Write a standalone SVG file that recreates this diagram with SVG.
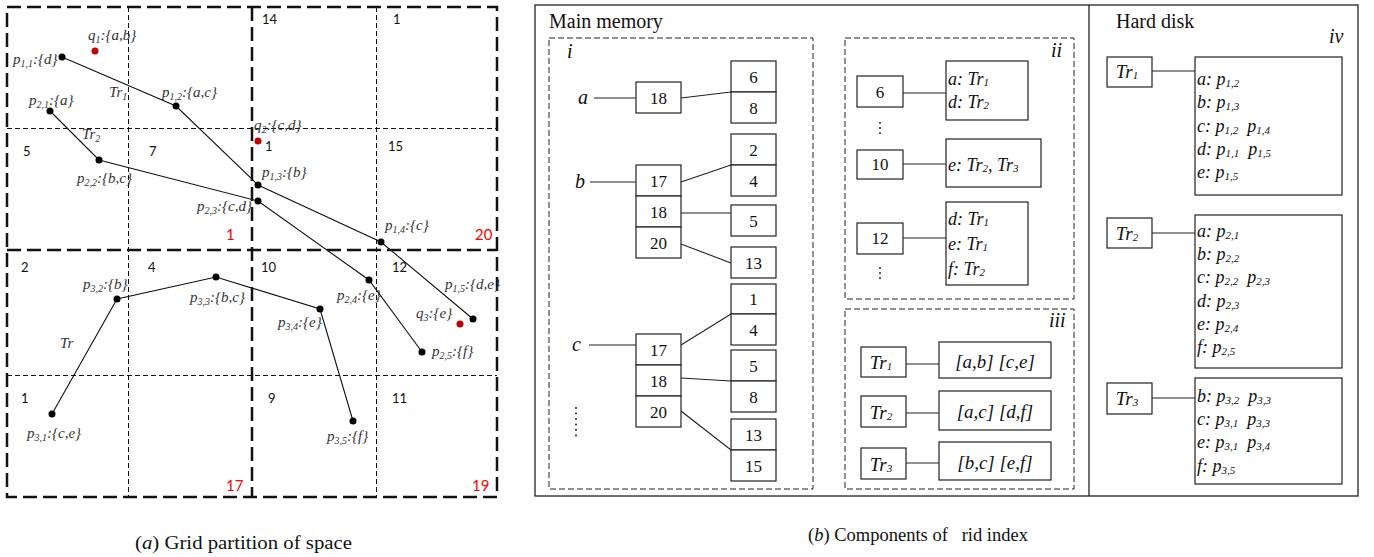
<svg xmlns="http://www.w3.org/2000/svg" width="1374" height="557" viewBox="0 0 1374 557">
<style>
.thk{fill:none;stroke:#111;stroke-width:2.5;stroke-dasharray:14,6}
.thn{fill:none;stroke:#111;stroke-width:1;stroke-dasharray:5,3}
.trj{fill:none;stroke:#111;stroke-width:1.1}
.pt{fill:#000}
.q{fill:#c00000}
.lb{font-family:"Liberation Serif",serif;font-style:italic;font-size:15px;fill:#333}
.s{font-size:10px}
.num{font-family:Lato,"Liberation Sans",sans-serif;font-size:13px;fill:#111}
.rn{font-family:Lato,"Liberation Sans",sans-serif;font-size:15px;fill:#f00}
.bx{fill:#fff;stroke:#222;stroke-width:1.2}
.dsh{fill:none;stroke:#222;stroke-width:1;stroke-dasharray:6,3}
.ln{fill:none;stroke:#222;stroke-width:1.1}
.bn{font-family:"Liberation Serif",serif;font-size:17px;fill:#111;text-anchor:middle}
.it{font-family:"Liberation Serif",serif;font-style:italic;font-size:18px;fill:#111}
.itc{font-family:"Liberation Serif",serif;font-style:italic;font-size:19px;fill:#111;text-anchor:middle}
.sb{font-size:11px}
.ttl{font-family:"Liberation Serif",serif;font-size:20px;fill:#111}
.big{font-family:"Liberation Serif",serif;font-style:italic;font-size:20px;fill:#111}
.cap{font-family:"Liberation Serif",serif;font-size:19px;fill:#111;white-space:pre}
</style>

<g id="grid">
  <line class="thn" x1="128.5" y1="7" x2="128.5" y2="497"/>
  <line class="thn" x1="376.5" y1="7" x2="376.5" y2="497"/>
  <line class="thn" x1="7" y1="128.5" x2="497" y2="128.5"/>
  <line class="thn" x1="7" y1="375.5" x2="497" y2="375.5"/>
  <rect class="thk" x="7" y="7" width="490" height="490"/>
  <line class="thk" x1="252" y1="7" x2="252" y2="497"/>
  <line class="thk" x1="7" y1="250" x2="497" y2="250"/>
  <text class="num" x="262" y="24">14</text>
  <text class="num" x="393" y="24">1</text>
  <text class="num" x="23" y="156">5</text>
  <text class="num" x="149" y="156">7</text>
  <text class="num" x="265" y="151">1</text>
  <text class="num" x="388" y="151">15</text>
  <text class="num" x="21" y="272">2</text>
  <text class="num" x="148" y="272">4</text>
  <text class="num" x="261" y="272">10</text>
  <text class="num" x="392" y="272">12</text>
  <text class="num" x="21" y="403">1</text>
  <text class="num" x="268" y="403">9</text>
  <text class="num" x="392" y="403">11</text>
  <text class="rn" x="226" y="240">1</text>
  <text class="rn" x="475" y="240">20</text>
  <text class="rn" x="226" y="491">17</text>
  <text class="rn" x="472" y="491">19</text>
</g>

<g id="connectors">
  <polyline class="trj" points="62,57 176,106 258,185 381,242 473,319"/>
  <polyline class="trj" points="50,111 99,160 258,201 369,280 422,352"/>
  <polyline class="trj" points="52,414 117,299 216,277 320,309 353,421"/>
  <line class="ln" x1="594" y1="98" x2="636" y2="98"/>
  <line class="ln" x1="681" y1="98" x2="731" y2="92"/>
  <line class="ln" x1="590" y1="182" x2="636" y2="182"/>
  <line class="ln" x1="681" y1="182" x2="731" y2="165"/>
  <line class="ln" x1="681" y1="213" x2="731" y2="213"/>
  <line class="ln" x1="681" y1="244" x2="731" y2="263"/>
  <line class="ln" x1="589" y1="345" x2="636" y2="345"/>
  <line class="ln" x1="681" y1="345" x2="731" y2="314"/>
  <line class="ln" x1="681" y1="378" x2="731" y2="381"/>
  <line class="ln" x1="681" y1="411" x2="731" y2="450"/>
  <line class="ln" x1="903" y1="93" x2="946" y2="93"/>
  <line class="ln" x1="903" y1="164" x2="946" y2="164"/>
  <line class="ln" x1="900" y1="238" x2="946" y2="238"/>
  <line class="ln" x1="906" y1="364" x2="939" y2="364"/>
  <line class="ln" x1="906" y1="413" x2="939" y2="413"/>
  <line class="ln" x1="906" y1="463" x2="939" y2="463"/>
  <line class="ln" x1="1152" y1="71" x2="1195" y2="71"/>
  <line class="ln" x1="1152" y1="233" x2="1195" y2="233"/>
  <line class="ln" x1="1152" y1="398" x2="1195" y2="398"/>
</g>

<g id="points">
  <circle class="pt" cx="62" cy="57" r="3.5"/>
  <circle class="pt" cx="176" cy="106" r="3.5"/>
  <circle class="pt" cx="258" cy="185" r="3.5"/>
  <circle class="pt" cx="381" cy="242" r="3.5"/>
  <circle class="pt" cx="473" cy="319" r="3.5"/>
  <circle class="pt" cx="50" cy="111" r="3.5"/>
  <circle class="pt" cx="99" cy="160" r="3.5"/>
  <circle class="pt" cx="258" cy="201" r="3.5"/>
  <circle class="pt" cx="369" cy="280" r="3.5"/>
  <circle class="pt" cx="422" cy="352" r="3.5"/>
  <circle class="pt" cx="52" cy="414" r="3.5"/>
  <circle class="pt" cx="117" cy="299" r="3.5"/>
  <circle class="pt" cx="216" cy="277" r="3.5"/>
  <circle class="pt" cx="320" cy="309" r="3.5"/>
  <circle class="pt" cx="353" cy="421" r="3.5"/>
  <circle class="q" cx="95" cy="51" r="3.5"/>
  <circle class="q" cx="258" cy="141" r="3.5"/>
  <circle class="q" cx="460" cy="324" r="3.5"/>
</g>

<g id="point-labels">
  <text class="lb" x="88" y="40">q<tspan class="s" dy="3">1</tspan><tspan dy="-3">:{a,b}</tspan></text>
  <text class="lb" x="13" y="64">p<tspan class="s" dy="3">1,1</tspan><tspan dy="-3">:{d}</tspan></text>
  <text class="lb" x="109" y="97">Tr<tspan class="s" dy="3">1</tspan></text>
  <text class="lb" x="162" y="97">p<tspan class="s" dy="3">1,2</tspan><tspan dy="-3">:{a,c}</tspan></text>
  <text class="lb" x="29" y="105">p<tspan class="s" dy="3">2,1</tspan><tspan dy="-3">:{a}</tspan></text>
  <text class="lb" x="82" y="139">Tr<tspan class="s" dy="3">2</tspan></text>
  <text class="lb" x="77" y="183">p<tspan class="s" dy="3">2,2</tspan><tspan dy="-3">:{b,c}</tspan></text>
  <text class="lb" x="197" y="211">p<tspan class="s" dy="3">2,3</tspan><tspan dy="-3">:{c,d}</tspan></text>
  <text class="lb" x="254" y="130">q<tspan class="s" dy="3">2</tspan><tspan dy="-3">:{c,d}</tspan></text>
  <text class="lb" x="262" y="177">p<tspan class="s" dy="3">1,3</tspan><tspan dy="-3">:{b}</tspan></text>
  <text class="lb" x="385" y="230">p<tspan class="s" dy="3">1,4</tspan><tspan dy="-3">:{c}</tspan></text>
  <text class="lb" x="445" y="289">p<tspan class="s" dy="3">1,5</tspan><tspan dy="-3">:{d,e}</tspan></text>
  <text class="lb" x="416" y="318">q<tspan class="s" dy="3">3</tspan><tspan dy="-3">:{e}</tspan></text>
  <text class="lb" x="337" y="300">p<tspan class="s" dy="3">2,4</tspan><tspan dy="-3">:{e}</tspan></text>
  <text class="lb" x="432" y="356">p<tspan class="s" dy="3">2,5</tspan><tspan dy="-3">:{f}</tspan></text>
  <text class="lb" x="278" y="327">p<tspan class="s" dy="3">3,4</tspan><tspan dy="-3">:{e}</tspan></text>
  <text class="lb" x="327" y="441">p<tspan class="s" dy="3">3,5</tspan><tspan dy="-3">:{f}</tspan></text>
  <text class="lb" x="83" y="289">p<tspan class="s" dy="3">3,2</tspan><tspan dy="-3">:{b}</tspan></text>
  <text class="lb" x="190" y="302">p<tspan class="s" dy="3">3,3</tspan><tspan dy="-3">:{b,c}</tspan></text>
  <text class="lb" x="60" y="348">Tr</text>
  <text class="lb" x="27" y="438">p<tspan class="s" dy="3">3,1</tspan><tspan dy="-3">:{c,e}</tspan></text>
</g>

<g id="panel-b">
  <rect x="535" y="5" width="823" height="491" fill="none" stroke="#222" stroke-width="1.3"/>
  <line x1="1089" y1="5" x2="1089" y2="496" stroke="#222" stroke-width="1.3"/>
  <text class="ttl" x="549" y="28">Main memory</text>
  <text class="ttl" x="1116" y="28">Hard disk</text>
</g>

<g id="box-i">
  <rect class="dsh" x="549" y="38" width="264" height="451"/>
  <text class="big" x="567" y="58">i</text>
  <text class="big" x="578" y="104">a</text>
  <text class="big" x="575" y="188">b</text>
  <text class="big" x="572" y="351">c</text>
  <g fill="#222">
    <circle cx="576" cy="408" r="1"/><circle cx="576" cy="413.5" r="1"/><circle cx="576" cy="419" r="1"/>
    <circle cx="576" cy="424.5" r="1"/><circle cx="576" cy="430" r="1"/><circle cx="576" cy="435.5" r="1"/>
  </g>
  <rect class="bx" x="636" y="82" width="45" height="31"/><text class="bn" x="658.5" y="104">18</text>
  <rect class="bx" x="731" y="61" width="45" height="31"/><text class="bn" x="753.5" y="83">6</text>
  <rect class="bx" x="731" y="92" width="45" height="31"/><text class="bn" x="753.5" y="114">8</text>
  <rect class="bx" x="636" y="165" width="45" height="31"/><text class="bn" x="658.5" y="187">17</text>
  <rect class="bx" x="636" y="196" width="45" height="31"/><text class="bn" x="658.5" y="218">18</text>
  <rect class="bx" x="636" y="227" width="45" height="31"/><text class="bn" x="658.5" y="249">20</text>
  <rect class="bx" x="731" y="134" width="45" height="31"/><text class="bn" x="753.5" y="156">2</text>
  <rect class="bx" x="731" y="165" width="45" height="31"/><text class="bn" x="753.5" y="187">4</text>
  <rect class="bx" x="731" y="205" width="45" height="31"/><text class="bn" x="753.5" y="227">5</text>
  <rect class="bx" x="731" y="247" width="45" height="31"/><text class="bn" x="753.5" y="269">13</text>
  <rect class="bx" x="636" y="334" width="45" height="31"/><text class="bn" x="658.5" y="356">17</text>
  <rect class="bx" x="636" y="365" width="45" height="31"/><text class="bn" x="658.5" y="387">18</text>
  <rect class="bx" x="636" y="396" width="45" height="31"/><text class="bn" x="658.5" y="418">20</text>
  <rect class="bx" x="731" y="284" width="45" height="30"/><text class="bn" x="753.5" y="305">1</text>
  <rect class="bx" x="731" y="314" width="45" height="31"/><text class="bn" x="753.5" y="336">4</text>
  <rect class="bx" x="731" y="350" width="45" height="31"/><text class="bn" x="753.5" y="372">5</text>
  <rect class="bx" x="731" y="381" width="45" height="31"/><text class="bn" x="753.5" y="403">8</text>
  <rect class="bx" x="731" y="419" width="45" height="31"/><text class="bn" x="753.5" y="441">13</text>
  <rect class="bx" x="731" y="450" width="45" height="31"/><text class="bn" x="753.5" y="472">15</text>
</g>

<g id="box-ii">
  <rect class="dsh" x="845" y="38" width="229" height="261"/>
  <text class="big" x="1051" y="57">ii</text>
  <rect class="bx" x="857" y="76" width="46" height="31"/><text class="bn" x="880" y="98">6</text>
  <rect class="bx" x="857" y="150" width="46" height="29"/><text class="bn" x="880" y="170">10</text>
  <rect class="bx" x="857" y="223" width="46" height="31"/><text class="bn" x="880" y="244">12</text>
  <g fill="#222">
    <circle cx="880" cy="123" r="1"/><circle cx="880" cy="128" r="1"/><circle cx="880" cy="133" r="1"/>
    <circle cx="880" cy="268" r="1"/><circle cx="880" cy="273" r="1"/><circle cx="880" cy="278" r="1"/>
  </g>
  <rect class="bx" x="946" y="61" width="82" height="59"/>
  <text class="it" x="948" y="85">a: Tr<tspan class="sb" dy="1">1</tspan></text>
  <text class="it" x="948" y="108">d: Tr<tspan class="sb" dy="1">2</tspan></text>
  <rect class="bx" x="946" y="139" width="95" height="48"/>
  <text class="it" x="948" y="171">e: Tr<tspan class="sb" dy="1">2</tspan><tspan dy="-1">, Tr</tspan><tspan class="sb" dy="1">3</tspan></text>
  <rect class="bx" x="946" y="202" width="82" height="83"/>
  <text class="it" x="948" y="225">d: Tr<tspan class="sb" dy="1">1</tspan></text>
  <text class="it" x="948" y="250">e: Tr<tspan class="sb" dy="1">1</tspan></text>
  <text class="it" x="948" y="275">f: Tr<tspan class="sb" dy="1">2</tspan></text>
</g>

<g id="box-iii">
  <rect class="dsh" x="845" y="309" width="229" height="180"/>
  <text class="big" x="1049" y="327">iii</text>
  <rect class="bx" x="861" y="347" width="45" height="30"/><text class="itc" x="881" y="369">Tr<tspan class="sb" dy="1">1</tspan></text>
  <rect class="bx" x="861" y="396" width="45" height="31"/><text class="itc" x="881" y="419">Tr<tspan class="sb" dy="1">2</tspan></text>
  <rect class="bx" x="861" y="448" width="45" height="31"/><text class="itc" x="881" y="471">Tr<tspan class="sb" dy="1">3</tspan></text>
  <rect class="bx" x="939" y="342" width="112" height="36"/><text class="itc" x="995" y="368">[a,b] [c,e]</text>
  <rect class="bx" x="939" y="391" width="112" height="39"/><text class="itc" x="995" y="418">[a,c] [d,f]</text>
  <rect class="bx" x="939" y="442" width="112" height="38"/><text class="itc" x="995" y="469">[b,c] [e,f]</text>
</g>

<g id="box-iv">
  <text class="big" x="1329" y="43">iv</text>
  <rect class="bx" x="1107" y="57" width="45" height="30"/><text class="itc" x="1127" y="78">Tr<tspan class="sb" dy="1">1</tspan></text>
  <rect class="bx" x="1107" y="218" width="45" height="30"/><text class="itc" x="1127" y="240">Tr<tspan class="sb" dy="1">2</tspan></text>
  <rect class="bx" x="1107" y="383" width="45" height="31"/><text class="itc" x="1127" y="405">Tr<tspan class="sb" dy="1">3</tspan></text>
  <rect class="bx" x="1195" y="57" width="147" height="138"/>
  <text class="it" x="1197" y="85">a: p<tspan class="sb" dy="2">1,2</tspan></text>
  <text class="it" x="1197" y="108">b: p<tspan class="sb" dy="2">1,3</tspan></text>
  <text class="it" x="1197" y="132">c: p<tspan class="sb" dy="2">1,2</tspan><tspan dy="-2" xml:space="preserve">  p</tspan><tspan class="sb" dy="2">1,4</tspan></text>
  <text class="it" x="1197" y="155">d: p<tspan class="sb" dy="2">1,1</tspan><tspan dy="-2" xml:space="preserve">  p</tspan><tspan class="sb" dy="2">1,5</tspan></text>
  <text class="it" x="1197" y="178">e: p<tspan class="sb" dy="2">1,5</tspan></text>
  <rect class="bx" x="1195" y="215" width="147" height="153"/>
  <text class="it" x="1197" y="237">a: p<tspan class="sb" dy="2">2,1</tspan></text>
  <text class="it" x="1197" y="260">b: p<tspan class="sb" dy="2">2,2</tspan></text>
  <text class="it" x="1197" y="283">c: p<tspan class="sb" dy="2">2,2</tspan><tspan dy="-2" xml:space="preserve">  p</tspan><tspan class="sb" dy="2">2,3</tspan></text>
  <text class="it" x="1197" y="307">d: p<tspan class="sb" dy="2">2,3</tspan></text>
  <text class="it" x="1197" y="330">e: p<tspan class="sb" dy="2">2,4</tspan></text>
  <text class="it" x="1197" y="353">f: p<tspan class="sb" dy="2">2,5</tspan></text>
  <rect class="bx" x="1195" y="378" width="147" height="106"/>
  <text class="it" x="1197" y="402">b: p<tspan class="sb" dy="2">3,2</tspan><tspan dy="-2" xml:space="preserve">  p</tspan><tspan class="sb" dy="2">3,3</tspan></text>
  <text class="it" x="1197" y="425">c: p<tspan class="sb" dy="2">3,1</tspan><tspan dy="-2" xml:space="preserve">  p</tspan><tspan class="sb" dy="2">3,3</tspan></text>
  <text class="it" x="1197" y="448">e: p<tspan class="sb" dy="2">3,1</tspan><tspan dy="-2" xml:space="preserve">  p</tspan><tspan class="sb" dy="2">3,4</tspan></text>
  <text class="it" x="1197" y="472">f: p<tspan class="sb" dy="2">3,5</tspan></text>
</g>

<g id="captions">
  <text class="cap" x="135" y="549" textLength="217" lengthAdjust="spacingAndGlyphs">(<tspan font-style="italic">a</tspan>) Grid partition of space</text>
  <text class="cap" x="808" y="541" textLength="220" lengthAdjust="spacingAndGlyphs" xml:space="preserve">(<tspan font-style="italic">b</tspan>) Components of   rid index</text>
</g>
</svg>
